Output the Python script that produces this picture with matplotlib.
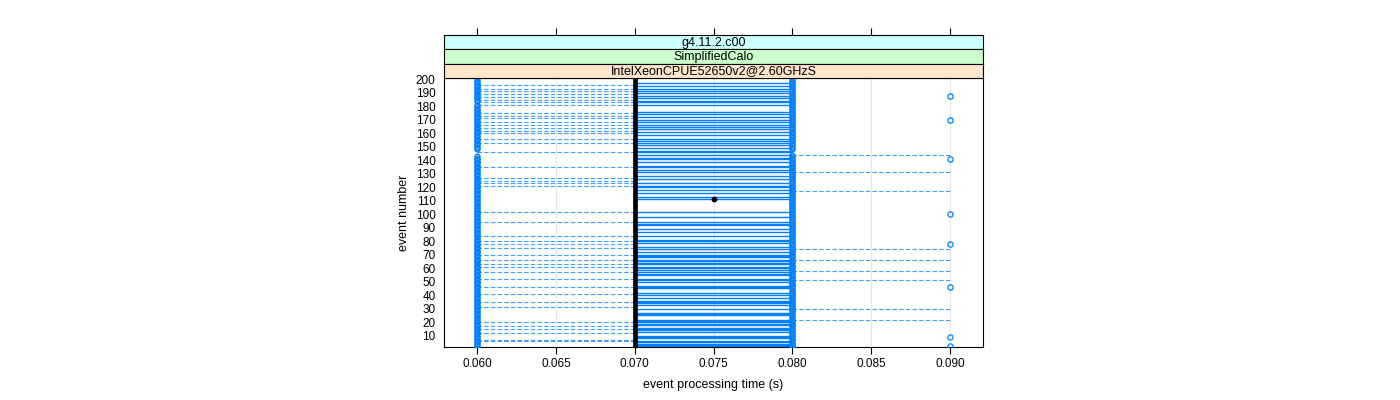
import matplotlib.pyplot as plt
import numpy as np

# strip labels (outer -> inner)
strip_labels = ["g4.11.2.c00", "SimplifiedCalo", "IntelXeonCPUE52650v2@2.60GHzS"]
strip_colors = ["#ccffff", "#ccffcc", "#ffe5cc"]

# event processing times (s) at which points sit
t_fast, t_median, t_mid, t_slow = 0.06, 0.07, 0.08, 0.09

# runs of consecutive events with a point at 0.06 s and 0.08 s
fast_runs = [(1, 143), (148, 181), (184, 200)]
mid_runs = [(1, 144), (148, 200)]
# events with a point at 0.09 s
slow_events = [188, 170, 141, 100, 78, 46, 9, 2]

# events joined 0.06 -> 0.07 (dashed)
left_dashed = [196, 193, 191, 189, 187, 185, 183, 181, 175, 173, 171, 168, 166, 164,
               162, 160, 156, 153, 146, 135, 127, 125, 123, 121,
               102, 94, 84, 80, 78, 75, 70, 66, 63, 61, 57, 52, 46, 41, 35, 31,
               20, 17, 15, 12, 7, 6]
# events joined 0.08 -> 0.09 (dashed)
right_dashed = [144, 131, 117, 74, 66, 58, 51, 30, 22]
# events joined 0.07 -> 0.08 (solid)
mid_solid = [197, 195, 193, 191, 190, 188, 186, 184, 183, 181, 176, 174, 172, 170,
             168, 166, 165, 163, 161, 159, 156, 154, 153, 151, 149, 147, 146, 144,
             142, 141, 139, 136, 135, 133, 131, 128, 126, 123, 121, 120, 118, 116,
             113, 111, 102, 98, 94, 93, 92, 89, 87, 84, 81, 80, 79, 76, 74, 72, 70,
             69, 68, 66, 65, 64, 63, 61, 60, 59, 57, 56, 55, 52, 51, 50, 47, 46, 45,
             42, 40, 38, 36, 35, 34, 33, 30, 27, 26, 25, 22, 21, 20, 19, 18, 16, 15,
             14, 13, 10, 9, 8, 6, 5, 4, 3, 2]

# mean marker
mean_time, mean_event = 0.075, 111

x_ticks = [0.060, 0.065, 0.070, 0.075, 0.080, 0.085, 0.090]
y_ticks = list(range(10, 201, 10))

blue = "#0080ff"
xlim = (0.0579, 0.0921)
ylim = (1.4, 201.2)

plt.rcParams['font.family'] = ['Liberation Sans', 'DejaVu Sans']

fig = plt.figure(figsize=(14, 4), dpi=100)
W, H = 1400, 400

def box(x0, y0, x1, y1):
    return [x0 / W, 1 - y1 / H, (x1 - x0) / W, (y1 - y0) / H]

ax = fig.add_axes(box(444, 77.7, 983, 347.3))
ax.set_xlim(*xlim)
ax.set_ylim(*ylim)

# vertical grid
for xt in x_ticks:
    ax.axvline(xt, color="#e6e6e6", lw=0.8, zorder=0)

def expand(runs):
    out = []
    for a, b in runs:
        out.extend(range(a, b + 1))
    return out

fast_events = expand(fast_runs)
mid_events = expand(mid_runs)

ax.hlines(left_dashed, t_fast, t_median, colors=blue, lw=0.8,
          linestyles=[(0, (4, 2))], alpha=0.75, zorder=2)
ax.hlines(right_dashed, t_mid, t_slow, colors=blue, lw=0.8,
          linestyles=[(0, (4, 2))], alpha=0.75, zorder=2)
ax.hlines(mid_solid, t_median, t_mid, colors=blue, lw=1.0, zorder=2)

ax.plot([t_fast] * len(fast_events), fast_events, 'o', mfc='none', mec=blue,
        ms=3.6, mew=0.9, zorder=3)
ax.plot([t_mid] * len(mid_events), mid_events, 'o', mfc='none', mec=blue,
        ms=3.6, mew=0.9, zorder=3)
ax.plot([t_slow] * len(slow_events), slow_events, 'o', mfc='none', mec=blue,
        ms=3.8, mew=0.9, zorder=3)

ax.axvline(t_median, color="black", lw=3.4, zorder=4)
ax.plot([mean_time], [mean_event], 'o', color="black", ms=3.2, zorder=5)

ax.set_xticks(x_ticks)
ax.set_xticklabels(["%.3f" % v for v in x_ticks], fontsize=8.5)
ax.set_yticks(y_ticks)
ax.set_yticklabels([str(v) for v in y_ticks], fontsize=8.5)
ax.tick_params(axis='x', direction='out', length=5, width=0.8, pad=3)
ax.tick_params(axis='y', length=0, pad=6)
ax.set_xlabel("event processing time (s)", fontsize=9, labelpad=6)
ax.set_ylabel("event number", fontsize=9, labelpad=4)
for s in ax.spines.values():
    s.set_linewidth(0.8)

# strips
edges = [35.3, 49.4, 63.5, 77.7]
for i, (lab, col) in enumerate(zip(strip_labels, strip_colors)):
    sax = fig.add_axes(box(444, edges[i], 983, edges[i + 1]))
    sax.set_facecolor(col)
    sax.set_xlim(*xlim)
    sax.set_yticks([])
    if i == 0:
        sax.set_xticks(x_ticks)
        sax.tick_params(axis='x', top=True, bottom=False, labeltop=False,
                        labelbottom=False, direction='out', length=5, width=0.8)
    else:
        sax.set_xticks([])
    for s in sax.spines.values():
        s.set_linewidth(0.8)
    sax.text(0.5, 0.45, lab, transform=sax.transAxes, ha='center', va='center',
             fontsize=9)

fig.savefig("out.png", dpi=100)
